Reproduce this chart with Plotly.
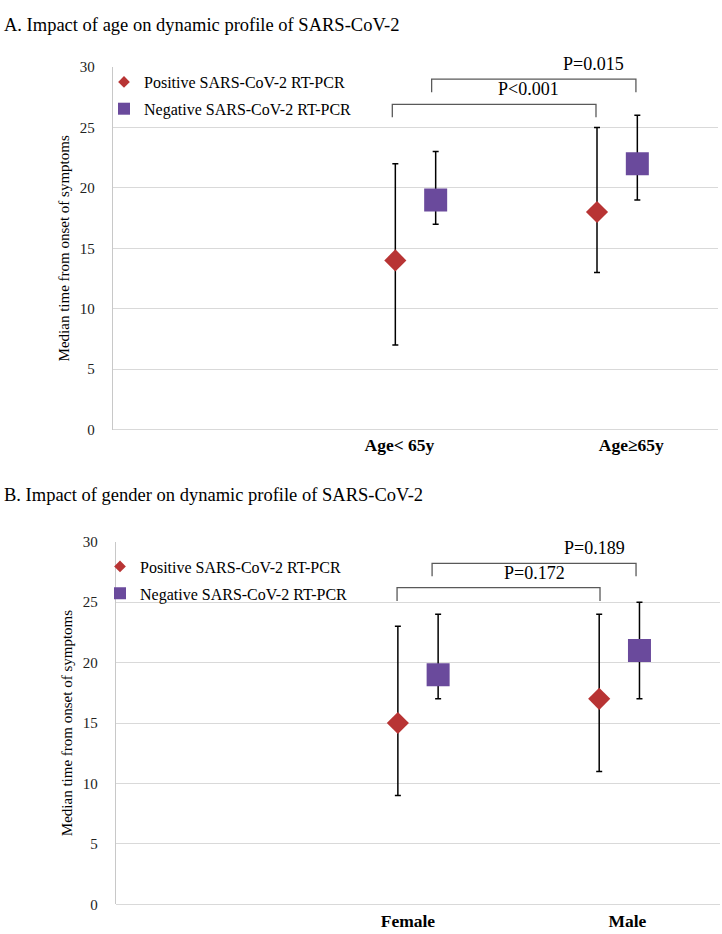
import plotly.graph_objects as go

# ---------------- data ----------------
series_names = ["Positive SARS-CoV-2 RT-PCR", "Negative SARS-CoV-2 RT-PCR"]

age_categories = ["Age< 65y", "Age≥65y"]
age_pos_median = [14, 18]
age_pos_low = [7, 13]
age_pos_high = [22, 25]
age_neg_median = [19, 22]
age_neg_low = [17, 19]
age_neg_high = [23, 26]
age_pvalues = ["P<0.001", "P=0.015"]

gender_categories = ["Female", "Male"]
gender_pos_median = [15, 17]
gender_pos_low = [9, 11]
gender_pos_high = [23, 24]
gender_neg_median = [19, 21]
gender_neg_low = [17, 17]
gender_neg_high = [24, 25]
gender_pvalues = ["P=0.172", "P=0.189"]

titles = ["A. Impact of age on dynamic profile of SARS-CoV-2",
          "B. Impact of gender on dynamic profile of SARS-CoV-2"]
y_title = "Median time from onset of symptoms"
y_ticks = [0, 5, 10, 15, 20, 25, 30]

# ---------------- style ----------------
FONT = "Liberation Serif, Times New Roman, serif"
RED = "#B83434"
PURPLE = "#6A4A9C"
GRID = "#D9D9D9"
W, H = 722, 934

cat_centers = [1.5, 2.5]
offset = 0.1

fig = go.Figure()

panels = [
    dict(cats=age_categories, pm=age_pos_median, pl=age_pos_low, ph=age_pos_high,
         nm=age_neg_median, nl=age_neg_low, nh=age_neg_high, pv=age_pvalues,
         xa="x", ya="y", xd=[113 / W, 718 / W], yd=[1 - 429 / H, 1 - 60 / H],
         label_x=[1.42, 2.57], label_standoff=3,
         brackets=[dict(x0=1.385, x1=2.395, top=26.9, leg=25.85, tx=2.06),
                   dict(x0=1.58, x1=2.593, top=29.0, leg=27.9, tx=2.385)],
         legend="legend", title_y=17),
    dict(cats=gender_categories, pm=gender_pos_median, pl=gender_pos_low, ph=gender_pos_high,
         nm=gender_neg_median, nl=gender_neg_low, nh=gender_neg_high, pv=gender_pvalues,
         xa="x2", ya="y2", xd=[116 / W, 720 / W], yd=[1 - 912 / H, 1 - 543 / H],
         label_x=[1.45, 2.54], label_standoff=4,
         brackets=[dict(x0=1.396, x1=2.404, top=26.2, leg=25.1, tx=2.077),
                   dict(x0=1.57, x1=2.583, top=28.2, leg=27.15, tx=2.375)],
         legend="legend2", title_y=495),
]

for i, p in enumerate(panels):
    xpos_pos = [c - offset for c in cat_centers]
    xpos_neg = [c + offset for c in cat_centers]
    fig.add_trace(go.Scatter(
        x=xpos_pos, y=p["pm"], mode="markers", name=series_names[0],
        xaxis=p["xa"], yaxis=p["ya"], showlegend=False,
        marker=dict(symbol="diamond", size=17, color=RED),
        error_y=dict(type="data", symmetric=False,
                     array=[h - m for h, m in zip(p["ph"], p["pm"])],
                     arrayminus=[m - l for m, l in zip(p["pm"], p["pl"])],
                     color="black", thickness=1.5, width=3)))
    fig.add_trace(go.Scatter(
        x=xpos_neg, y=p["nm"], mode="markers", name=series_names[1],
        xaxis=p["xa"], yaxis=p["ya"], showlegend=False,
        marker=dict(symbol="square", size=23, color=PURPLE),
        error_y=dict(type="data", symmetric=False,
                     array=[h - m for h, m in zip(p["nh"], p["nm"])],
                     arrayminus=[m - l for m, l in zip(p["nm"], p["nl"])],
                     color="black", thickness=1.5, width=3)))
    # legend entries
    fig.add_trace(go.Scatter(
        x=[None], y=[None], mode="markers", name=series_names[0],
        xaxis=p["xa"], yaxis=p["ya"], legend=p["legend"], legendgroup=f"p{i}",
        marker=dict(symbol="diamond", size=9, color=RED)))
    fig.add_trace(go.Scatter(
        x=[None], y=[None], mode="markers", name=series_names[1],
        xaxis=p["xa"], yaxis=p["ya"], legend=p["legend"], legendgroup=f"n{i}",
        marker=dict(symbol="square", size=12, color=PURPLE)))

    # brackets with p-values
    for b, txt in zip(p["brackets"], p["pv"]):
        fig.add_shape(type="path",
                      path=f"M {b['x0']},{b['leg']} L {b['x0']},{b['top']} L {b['x1']},{b['top']} L {b['x1']},{b['leg']}",
                      xref=p["xa"], yref=p["ya"], line=dict(color="#595959", width=1.3))
        fig.add_annotation(x=b["tx"], y=b["top"], xref=p["xa"], yref=p["ya"],
                           text=txt, showarrow=False, yanchor="bottom", yshift=3,
                           font=dict(family=FONT, size=18, color="black"))

    # panel title
    fig.add_annotation(x=2 / W, y=1 - p["title_y"] / H, xref="paper", yref="paper",
                       text=titles[i], showarrow=False, xanchor="left", yanchor="middle",
                       font=dict(family=FONT, size=18.5, color="black"))

    axsuffix = "" if i == 0 else "2"
    fig.update_layout({
        f"xaxis{axsuffix}": dict(domain=p["xd"], range=[0, 3], showgrid=False, zeroline=False,
                                  showline=False, tickmode="array", tickvals=p["label_x"],
                                  ticktext=[f"<b>{c}</b>" for c in p["cats"]],
                                  tickfont=dict(family=FONT, size=17.5, color="black"),
                                  ticks="", ticklabelstandoff=p["label_standoff"],
                                  anchor=f"y{axsuffix}", fixedrange=True),
        f"yaxis{axsuffix}": dict(domain=p["yd"], range=[0, 30], tickvals=y_ticks,
                                  showgrid=True, gridcolor=GRID, gridwidth=1.3,
                                  zeroline=True, zerolinecolor=GRID, zerolinewidth=1.3,
                                  showline=True, linecolor="#C8C8C8", linewidth=1.3,
                                  ticks="", ticklabelstandoff=14,
                                  tickfont=dict(family=FONT, size=15, color="#222222"),
                                  title=dict(text=y_title, standoff=6,
                                             font=dict(family=FONT, size=15, color="black")),
                                  anchor=f"x{axsuffix}", fixedrange=True),
    })

legend_common = dict(font=dict(family=FONT, size=16, color="black"), bgcolor="rgba(0,0,0,0)",
                     xanchor="left", yanchor="top", itemsizing="trace",
                     traceorder="grouped", tracegroupgap=3)
fig.update_layout(
    width=W, height=H, margin=dict(l=0, r=0, t=0, b=0),
    plot_bgcolor="white", paper_bgcolor="white", showlegend=True,
    legend=dict(x=(144 - 40) / W, y=1 - 58 / H, **legend_common),
    legend2=dict(x=(140 - 40) / W, y=1 - 551 / H, **legend_common),
)

fig.write_html("out.html", config={"displayModeBar": False},
               post_script="document.body.style.margin='0px';")
